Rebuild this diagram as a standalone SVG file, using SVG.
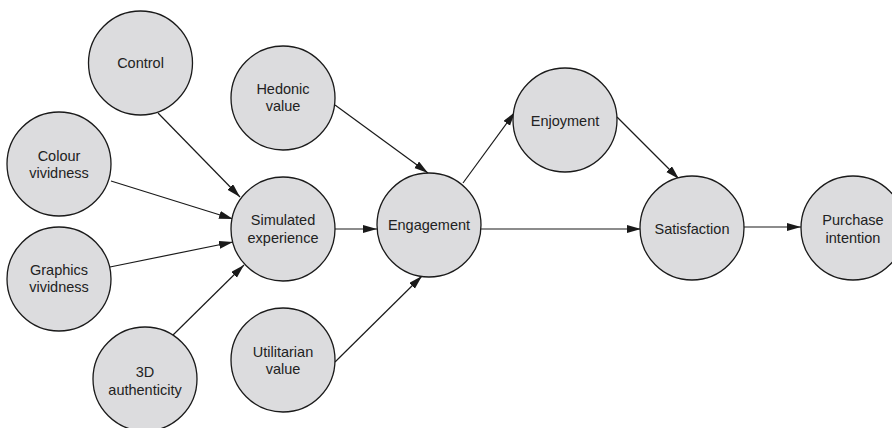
<svg xmlns="http://www.w3.org/2000/svg" width="892" height="428" viewBox="0 0 892 428">
<style>
.n circle{fill:#dcdcde;stroke:#1a1a1a;stroke-width:1.3}
.n text{font-family:"Liberation Sans",Arial,sans-serif;font-size:14.5px;fill:#222;text-anchor:middle}
.e line{stroke:#1a1a1a;stroke-width:1.2;marker-end:url(#ah)}
</style>
<defs>
<marker id="ah" markerUnits="userSpaceOnUse" markerWidth="15" markerHeight="9" refX="14" refY="4" orient="auto">
<path d="M0,0 L14,4 L0,8 z" fill="#1a1a1a"/>
</marker>
</defs>
<rect width="892" height="428" fill="#fff"/>
<g id="edges" class="e">
<line x1="158" y1="113" x2="240" y2="197"/>
<line x1="111" y1="181" x2="233" y2="219"/>
<line x1="110" y1="267" x2="233" y2="242"/>
<line x1="173" y1="335" x2="244" y2="265"/>
<line x1="335" y1="105" x2="428" y2="173"/>
<line x1="335" y1="229" x2="377" y2="229"/>
<line x1="335" y1="362" x2="422" y2="276"/>
<line x1="463" y1="183" x2="515" y2="112"/>
<line x1="481" y1="229" x2="641" y2="229"/>
<line x1="617" y1="117" x2="679" y2="179"/>
<line x1="743" y1="227" x2="801" y2="227"/>
</g>
<g id="control" class="n"><circle cx="140.5" cy="63" r="52"/><text x="140.5" y="68">Control</text></g>
<g id="colour" class="n"><circle cx="59" cy="164" r="52"/><text x="59" y="161">Colour</text><text x="59" y="178">vividness</text></g>
<g id="graphics" class="n"><circle cx="59" cy="279" r="52"/><text x="59" y="275">Graphics</text><text x="59" y="292">vividness</text></g>
<g id="auth3d" class="n"><circle cx="145" cy="379" r="52"/><text x="145" y="377">3D</text><text x="145" y="395">authenticity</text></g>
<g id="hedonic" class="n"><circle cx="283" cy="98" r="52"/><text x="283" y="94">Hedonic</text><text x="283" y="111">value</text></g>
<g id="simulated" class="n"><circle cx="283" cy="229" r="52"/><text x="283" y="225">Simulated</text><text x="283" y="243">experience</text></g>
<g id="utilitarian" class="n"><circle cx="283" cy="360" r="52"/><text x="283" y="357">Utilitarian</text><text x="283" y="374">value</text></g>
<g id="engagement" class="n"><circle cx="429" cy="225" r="52"/><text x="429" y="230">Engagement</text></g>
<g id="enjoyment" class="n"><circle cx="565" cy="120" r="52"/><text x="565" y="126">Enjoyment</text></g>
<g id="satisfaction" class="n"><circle cx="692" cy="228" r="52"/><text x="692" y="234">Satisfaction</text></g>
<g id="purchase" class="n"><circle cx="853" cy="228" r="52"/><text x="853" y="225">Purchase</text><text x="853" y="243">intention</text></g>
</svg>
